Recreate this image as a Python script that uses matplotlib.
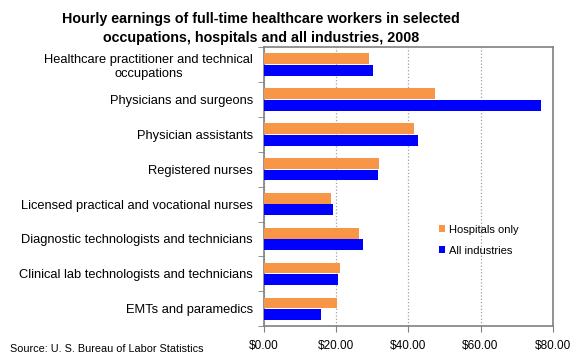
import numpy as np
import matplotlib
matplotlib.use("Agg")
import matplotlib.pyplot as plt

plt.rcParams['font.family'] = ['Liberation Sans', 'DejaVu Sans']

occupations = [
    "Healthcare practitioner and technical\noccupations",
    "Physicians and surgeons",
    "Physician assistants",
    "Registered nurses",
    "Licensed practical and vocational nurses",
    "Diagnostic technologists and technicians",
    "Clinical lab technologists and technicians",
    "EMTs and paramedics",
]
hospitals = [29.1, 47.3, 41.7, 31.9, 18.5, 26.3, 21.0, 20.2]
all_industries = [30.2, 76.8, 42.8, 31.6, 19.1, 27.4, 20.5, 15.7]
xticks = [0, 20, 40, 60, 80]

fig = plt.figure(figsize=(5.8, 3.6), dpi=100)
ax = fig.add_axes([0.455, 0.094, 0.498, 0.775])

y = np.arange(len(occupations))
h = 0.31
ax.barh(y - h / 2 - 0.01, hospitals, height=h, color='#F79646', label='Hospitals only', zorder=3)
ax.barh(y + h / 2 + 0.01, all_industries, height=h, color='#0000FF', label='All industries', zorder=3)

ax.set_ylim(len(occupations) - 0.5, -0.5)
ax.set_xlim(0, 80)
ax.set_yticks(y)
ax.set_yticklabels(occupations, fontsize=9.3, multialignment='center')
ax.set_yticks(np.arange(-0.5, len(occupations)), minor=True)
ax.tick_params(axis='y', which='major', length=0, pad=8)
ax.tick_params(axis='y', which='minor', length=4, color='#808080', direction='out')
ax.set_xticks(xticks)
ax.set_xticklabels(['${:.2f}'.format(v) for v in xticks], fontsize=8.5)
ax.tick_params(axis='x', length=4, color='#808080', direction='out', pad=6)

ax.grid(axis='x', linestyle=':', color='#A0A0A0', linewidth=0.9, zorder=0)
for s in ax.spines.values():
    s.set_color('#808080')
    s.set_linewidth(1.2)

ax.legend(loc='upper left', bbox_to_anchor=(0.57, 0.40), frameon=False,
          fontsize=8, handlelength=0.6, handleheight=0.6, handletextpad=0.3,
          labelspacing=1.0)

fig.text(0.45, 0.922, "Hourly earnings of full-time healthcare workers in selected\n"
         "occupations, hospitals and all industries, 2008",
         fontsize=10.3, fontweight='bold', ha='center', va='center',
         linespacing=1.45)
fig.text(0.017, 0.022, "Source: U. S. Bureau of Labor Statistics", fontsize=7.8)

fig.savefig('out.png', dpi=100)
